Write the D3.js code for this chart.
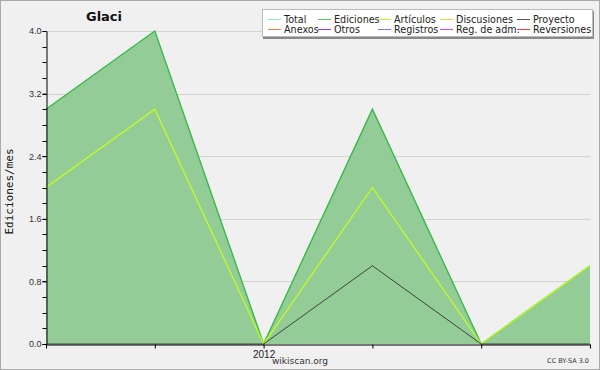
<!DOCTYPE html>
<html>
<head>
<meta charset="utf-8">
<script src="https://cdn.jsdelivr.net/npm/d3@7"></script>
<style>
  body { margin: 0; background: #f0f0f0; }
  svg { display: block; font-family: "DejaVu Sans", sans-serif; }
</style>
</head>
<body>
<div id="chart"></div>
<script>
// monthly values
const months = ["2011-11", "2011-12", "2012-01", "2012-02", "2012-03", "2012-04"];
const total = [3, 4, 0, 3, 0, 1];
const ediciones = [3, 4, 0, 3, 0, 1];
const articulos = [2, 3, 0, 2, 0, 1];
const proyecto = [0, 0, 0, 1, 0, 0];

const legendNames = ["Total", "Ediciones", "Artículos", "Discusiones", "Proyecto",
                     "Anexos", "Otros", "Registros", "Reg. de adm.", "Reversiones"];
const legendColors = ["#8ee5e5", "#5cc75c", "#bff22a", "#ffcc33", "#555555",
                      "#ff7f3f", "#9933ff", "#6c7cff", "#e040f0", "#ff3333"];

const width = 600, height = 370;
const margin = { top: 31, right: 10, bottom: 26, left: 46 };

const svg = d3.select("#chart").append("svg")
    .attr("width", width)
    .attr("height", height);

svg.append("rect")
    .attr("x", 0.5).attr("y", 0.5)
    .attr("width", width - 1).attr("height", height - 1)
    .attr("fill", "#f0f0f0")
    .attr("stroke", "#aaaaaa");

// months are evenly spaced on the original chart
const x = d3.scalePoint()
    .domain(months)
    .range([margin.left, width - margin.right]);

const y = d3.scaleLinear()
    .domain([0, 4])
    .range([height - margin.bottom, margin.top]);

// gridlines
svg.append("g")
    .selectAll("line")
    .data(d3.range(0.8, 4.01, 0.8))
    .join("line")
        .attr("x1", margin.left)
        .attr("x2", width - margin.right)
        .attr("y1", d => Math.round(y(d)) + 0.5)
        .attr("y2", d => Math.round(y(d)) + 0.5)
        .attr("stroke", "#d2d2d2");

const rows = months.map((m, i) => ({ m: m, total: total[i], ed: ediciones[i], art: articulos[i], pro: proyecto[i] }));

const area = d3.area()
    .x(d => x(d.m))
    .y0(y(0))
    .y1(d => y(d.ed));

svg.append("path")
    .datum(rows)
    .attr("fill", "#94cc98")
    .attr("d", area);

const line = key => d3.line().x(d => x(d.m)).y(d => y(d[key]));

svg.append("path")
    .datum(rows)
    .attr("fill", "none")
    .attr("stroke", "#8ee5e5")
    .attr("stroke-width", 1)
    .attr("d", line("total"));

svg.append("path")
    .datum(rows)
    .attr("fill", "none")
    .attr("stroke", "#3cb844")
    .attr("stroke-width", 1.4)
    .attr("d", line("ed"));

svg.append("path")
    .datum(rows)
    .attr("fill", "none")
    .attr("stroke", "#c6ff1a")
    .attr("stroke-width", 1.2)
    .attr("d", line("art"));

svg.append("path")
    .datum(rows)
    .attr("fill", "none")
    .attr("stroke", "#333333")
    .attr("stroke-width", 0.9)
    .attr("d", line("pro"));

// y axis
const yAxis = svg.append("g")
    .attr("transform", `translate(${margin.left + 0.5},0)`)
    .call(d3.axisLeft(y).tickValues(d3.range(0, 4.01, 0.8)).tickSize(4).tickSizeOuter(0)
        .tickFormat(d3.format(".1f")));
yAxis.select(".domain").attr("stroke", "#000");
yAxis.selectAll("text").attr("fill", "#333").style("font-size", "9px").attr("x", -5);

svg.append("g")
    .attr("transform", `translate(${margin.left + 0.5},0)`)
    .selectAll("line")
    .data(d3.range(0, 4.01, 0.2))
    .join("line")
        .attr("x1", -4).attr("x2", 0)
        .attr("y1", d => Math.round(y(d)) + 0.5)
        .attr("y2", d => Math.round(y(d)) + 0.5)
        .attr("stroke", "#000");

// x axis
const xAxis = svg.append("g")
    .attr("transform", `translate(0,${height - margin.bottom + 0.5})`)
    .call(d3.axisBottom(x).tickSize(4).tickSizeOuter(0)
        .tickFormat(d => d.endsWith("-01") ? d.slice(0, 4) : ""));
xAxis.select(".domain").attr("stroke", "#000");
xAxis.selectAll("text").attr("fill", "#222").style("font-size", "10px").attr("y", 6);

// title and labels
svg.append("text")
    .attr("x", 104).attr("y", 21)
    .attr("text-anchor", "middle")
    .style("font-size", "13px")
    .style("font-weight", "bold")
    .attr("fill", "#111")
    .text("Glaci");

svg.append("text")
    .attr("transform", `translate(13,${(margin.top + height - margin.bottom) / 2 + 4}) rotate(-90)`)
    .attr("text-anchor", "middle")
    .style("font-size", "11px")
    .style("font-family", "'DejaVu Sans Mono', monospace")
    .attr("fill", "#111")
    .text("Ediciones/mes");

svg.append("text")
    .attr("x", 300).attr("y", 364)
    .attr("text-anchor", "middle")
    .style("font-size", "9px")
    .attr("fill", "#333")
    .text("wikiscan.org");

svg.append("text")
    .attr("x", 589).attr("y", 363)
    .attr("text-anchor", "end")
    .style("font-size", "6.5px")
    .attr("fill", "#333")
    .text("CC BY-SA 3.0");

// legend
const lg = svg.append("g");
lg.append("rect")
    .attr("x", 263).attr("y", 11)
    .attr("width", 331).attr("height", 28)
    .attr("fill", "#888");
lg.append("rect")
    .attr("x", 262.5).attr("y", 9.5)
    .attr("width", 330).attr("height", 27)
    .attr("fill", "#ffffff")
    .attr("stroke", "#bbbbbb");

const colX = [268, 318, 378, 440, 517];
const item = lg.selectAll("g.item")
    .data(legendNames)
    .join("g")
        .attr("class", "item")
        .attr("transform", (d, i) => `translate(${colX[i % 5]},${i < 5 ? 19 : 29})`);
item.append("line")
    .attr("x1", 0).attr("x2", 13)
    .attr("y1", 0.5).attr("y2", 0.5)
    .attr("stroke", (d, i) => legendColors[i]);
item.append("text")
    .attr("x", 16).attr("y", 3.5)
    .style("font-size", "9.6px")
    .attr("fill", "#222")
    .text(d => d);
</script>
</body>
</html>
